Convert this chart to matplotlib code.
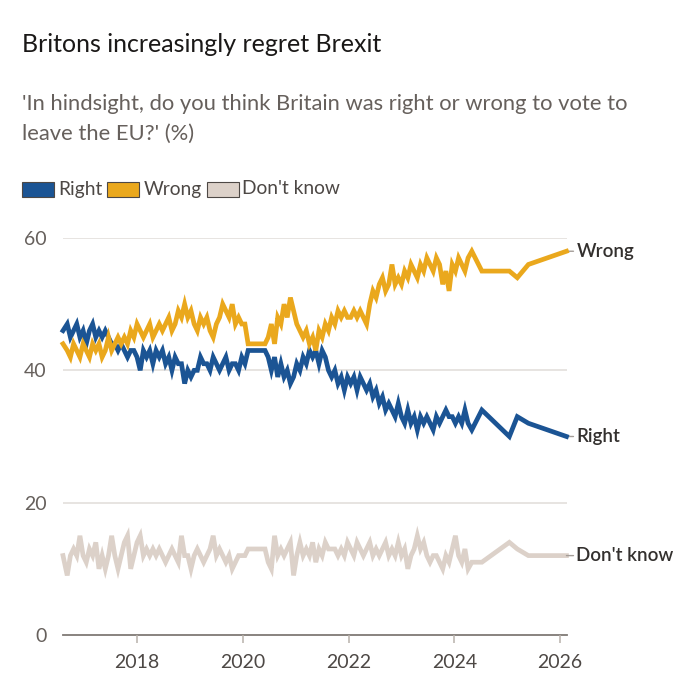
import matplotlib
matplotlib.use('Agg')
import matplotlib.pyplot as plt
from matplotlib.patches import Rectangle

# ---------------- data ----------------
dates = [
    2016.60, 2016.68, 2016.74, 2016.80, 2016.86, 2016.92, 2016.98, 2017.04, 2017.10, 2017.16, 2017.22, 2017.28, 2017.34, 2017.40,
    2017.46, 2017.52, 2017.58, 2017.64, 2017.70,
    2017.76, 2017.82, 2017.88, 2017.94, 2018.00, 2018.06, 2018.12, 2018.18, 2018.24, 2018.30, 2018.36, 2018.42, 2018.48,
    2018.54, 2018.60, 2018.66, 2018.72, 2018.78, 2018.84, 2018.90, 2018.96, 2019.02, 2019.08, 2019.14, 2019.20, 2019.26,
    2019.32, 2019.38, 2019.44, 2019.50, 2019.56, 2019.62, 2019.68, 2019.74, 2019.80, 2019.86, 2019.92, 2019.98, 2020.04,
    2020.10, 2020.42,
    2020.48, 2020.54, 2020.60, 2020.66, 2020.72, 2020.78, 2020.84, 2020.90, 2020.96, 2021.02, 2021.08, 2021.14, 2021.20,
    2021.26, 2021.32, 2021.38, 2021.44, 2021.50, 2021.56, 2021.62, 2021.68, 2021.74, 2021.80, 2021.86, 2021.92, 2021.98,
    2022.04, 2022.10, 2022.16, 2022.22, 2022.28, 2022.34, 2022.40, 2022.46, 2022.52, 2022.58, 2022.64, 2022.70, 2022.76,
    2022.82, 2022.88, 2022.94, 2023.00, 2023.06, 2023.12, 2023.18, 2023.24, 2023.30, 2023.36, 2023.42, 2023.48, 2023.54,
    2023.60, 2023.66, 2023.72, 2023.78, 2023.84, 2023.90, 2023.96, 2024.02, 2024.08, 2024.14, 2024.20, 2024.26,
    2024.33, 2024.52, 2025.04, 2025.19, 2025.40, 2026.12,
]

right = [
    46, 47, 45, 46, 47, 45, 46, 44, 46, 47, 45, 46, 45, 46,
    45, 44, 44, 43, 44,
    43, 42, 43, 43, 42, 40, 43, 42, 43, 41, 43, 42, 43,
    41, 42, 40, 42, 41, 41, 38, 40, 39, 40, 40, 42, 41,
    41, 40, 42, 41, 40, 41, 42, 40, 41, 41, 40, 42, 41,
    43, 43,
    42, 40, 42, 39, 41, 39, 40, 38, 39, 41, 40, 42, 41,
    43, 42, 43, 41, 43, 42, 40, 39, 40, 38, 39, 37, 39,
    38, 39, 37, 39, 38, 37, 38, 36, 37, 35, 36, 34, 35,
    34, 33, 35, 33, 32, 34, 32, 33, 31, 33, 32, 33, 32,
    31, 33, 32, 33, 34, 33, 33, 32, 33, 32, 34, 32,
    31, 34, 30, 33, 32, 30,
]

wrong = [
    44, 43, 42, 44, 43, 42, 44, 43, 42, 44, 43, 44, 42, 43,
    45, 43, 44, 45, 44,
    45, 44, 46, 45, 47, 46, 45, 46, 47, 45, 46, 47, 46,
    47, 48, 46, 47, 49, 48, 50, 48, 49, 47, 46, 48, 47,
    48, 46, 45, 47, 48, 50, 49, 48, 50, 47, 48, 47, 47,
    44, 44,
    45, 47, 44, 48, 47, 50, 48, 51, 49, 47, 46, 45, 46,
    44, 45, 43, 46, 45, 47, 46, 48, 47, 49, 48, 49, 48,
    48, 49, 48, 49, 48, 47, 50, 52, 51, 53, 54, 52, 53,
    56, 53, 54, 53, 55, 54, 56, 55, 54, 56, 55, 57, 56,
    55, 57, 56, 53, 55, 52, 56, 55, 57, 56, 55, 57,
    58, 55, 55, 54, 56, 58,
]

dont_know = [
    12, 9, 12, 13, 12, 15, 12, 11, 13, 12, 14, 10, 12, 10,
    12, 15, 12, 10, 12,
    14, 15, 10, 12, 14, 15, 12, 13, 12, 13, 12, 13, 12,
    11, 12, 13, 12, 11, 15, 12, 12, 10, 12, 13, 12, 11,
    12, 13, 15, 12, 13, 12, 11, 12, 10, 11, 12, 12, 12,
    13, 13,
    11, 10, 15, 12, 13, 12, 13, 14, 9, 12, 14, 12, 13,
    12, 14, 11, 13, 12, 14, 13, 13, 13, 12, 13, 12, 14,
    13, 12, 14, 13, 12, 13, 14, 12, 13, 12, 13, 14, 12,
    13, 12, 14, 12, 13, 10, 12, 13, 15, 13, 14, 12, 11,
    12, 12, 11, 10, 12, 11, 13, 15, 12, 11, 13, 10,
    11, 11, 14, 13, 12, 12,
]

series_names = ["Right", "Wrong", "Don't know"]
series_values = [right, wrong, dont_know]
colors = ["#1b5494", "#eaa81d", "#dcd1c9"]
y_ticks = [0, 20, 40, 60]
x_ticks = [2018, 2020, 2022, 2024, 2026]

title = "Britons increasingly regret Brexit"
subtitle = "'In hindsight, do you think Britain was right or wrong to vote to\nleave the EU?' (%)"

# ---------------- figure ----------------
FONT = ["Lato", "DejaVu Sans"]
plt.rcParams['font.family'] = FONT

W = H = 700
fig = plt.figure(figsize=(7, 7), dpi=100, facecolor='white')

def fx(px):
    return px / W

def fy(py):
    return 1 - py / H

ax_left, ax_right, ax_top, ax_bottom = 63, 567, 238, 635
ax = fig.add_axes([fx(ax_left), fy(ax_bottom), (ax_right - ax_left) / W, (ax_bottom - ax_top) / H])
ax.set_xlim(2016.6, 2026.13)
ax.set_ylim(0, 60)
ax.set_facecolor('white')
for s in ax.spines.values():
    s.set_visible(False)

# gridlines
for t in y_ticks:
    if t == 0:
        ax.axhline(t, color="#7f7975", lw=1.3, zorder=1, clip_on=False)
    else:
        ax.axhline(t, color="#e3dfdb", lw=1.2, zorder=1)

ax.set_yticks(y_ticks)
ax.set_yticklabels([str(t) for t in y_ticks])
ax.tick_params(axis='y', length=0, pad=12, labelsize=14, labelcolor="#66605c")
ax.set_xticks(x_ticks)
ax.set_xticklabels([str(t) for t in x_ticks])
ax.tick_params(axis='x', length=6, width=1.1, color="#b8b1ab", pad=8, labelsize=14, labelcolor="#4d4845")

# lines: draw Don't know, Right, then Wrong on top
order = [2, 0, 1]
for i in order:
    ax.plot(dates, series_values[i], color=colors[i], lw=3.4, zorder=3 + order.index(i),
            solid_joinstyle='miter', clip_on=False)

# end labels with small connectors
for i, name in enumerate(series_names):
    xe, ye = dates[-1], series_values[i][-1]
    ax.annotate("", xy=(xe, ye), xytext=(7, 0), textcoords='offset pixels',
                arrowprops=dict(arrowstyle='-', color="#a39c97", lw=1, shrinkA=0, shrinkB=0),
                annotation_clip=False)
    ax.annotate(name, xy=(xe, ye), xytext=(10, 0), textcoords='offset pixels',
                ha='left', va='center', fontsize=13.5, color="#33302e", fontweight='semibold',
                annotation_clip=False)

# title / subtitle
fig.text(fx(22), fy(45), title, fontsize=18, color="#1a1817", ha='left', va='center')
fig.text(fx(22), fy(119), subtitle, fontsize=15.8, color="#66605c", ha='left', va='center',
         linespacing=1.62)

# legend
fig.canvas.draw()
renderer = fig.canvas.get_renderer()
x = 22
ly = 189
for name, c in zip(series_names, colors):
    rect = Rectangle((fx(x), fy(ly + 8)), 32 / W, 15 / H, transform=fig.transFigure,
                     facecolor=c, edgecolor="#4d4845", lw=0.8)
    fig.add_artist(rect)
    t = fig.text(fx(x + 36), fy(ly), name, fontsize=13.8, color="#4d4845", ha='left', va='center')
    bb = t.get_window_extent(renderer)
    x = x + 36 + bb.width + 5

fig.savefig("out.png", dpi=100, facecolor='white')
